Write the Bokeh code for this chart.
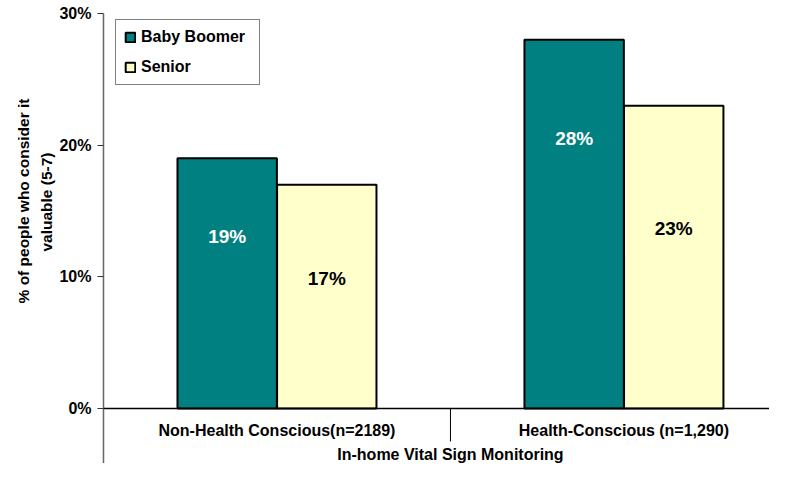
from bokeh.plotting import figure
from bokeh.models import (Range1d, FixedTicker, PrintfTickFormatter, Legend,
                          LegendItem, Span, Title)
from bokeh.core.properties import value
from bokeh.embed import file_html
from bokeh.resources import INLINE

# ---- data ----
categories = ["Non-Health Conscious(n=2189)", "Health-Conscious (n=1,290)"]
series_names = ["Baby Boomer", "Senior"]
baby_boomer = [19, 28]
senior = [17, 23]
y_ticks = [0, 10, 20, 30]
group_label = "In-home Vital Sign Monitoring"
y_label_lines = ["% of people who consider it", "valuable (5-7)"]
boomer_label_y = [13.1, 20.5]
senior_label_y = [9.85, 13.65]

FONT = "Liberation Sans"
TEAL = "#008080"
CREAM = "#FFFFCC"

cat_x = [1 + 2 * i for i in range(len(categories))]
separators = [(a + b) / 2 for a, b in zip(cat_x[:-1], cat_x[1:])]
offset = 0.287
bw = 0.573

p = figure(width=769, height=463,
           x_range=Range1d(0, 3.839), y_range=Range1d(-4.177, 30),
           output_backend="svg", toolbar_location=None,
           x_axis_location=None,
           min_border_left=103, min_border_right=0,
           min_border_top=13, min_border_bottom=0)
p.outline_line_color = None
p.grid.visible = False
p.background_fill_color = "white"

# bars
r1 = p.vbar(x=[c - offset for c in cat_x], top=baby_boomer, width=bw,
            fill_color=TEAL, line_color="black", line_width=2)
r2 = p.vbar(x=[c + offset for c in cat_x], top=senior, width=bw,
            fill_color=CREAM, line_color="black", line_width=2)

# value labels
p.text(x=[c - offset for c in cat_x], y=boomer_label_y,
       text=[f"{v}%" for v in baby_boomer], text_color="white",
       text_font=value(FONT), text_font_style="bold", text_font_size="19px",
       text_align="center", text_baseline="middle")
p.text(x=[c + offset for c in cat_x], y=senior_label_y,
       text=[f"{v}%" for v in senior], text_color="black",
       text_font=value(FONT), text_font_style="bold", text_font_size="19px",
       text_align="center", text_baseline="middle")

# x axis line, separators, category labels
p.add_layout(Span(location=0, dimension="width", line_color="black", line_width=1.5))
p.segment(x0=separators, y0=[0] * len(separators), x1=separators,
          y1=[-2.5] * len(separators), line_color="black", line_width=1)
p.text(x=cat_x, y=[-1.67] * len(cat_x), text=categories, text_color="black",
       text_font=value(FONT), text_font_style="bold", text_font_size="16px",
       text_align="center", text_baseline="middle")
p.text(x=[sum(cat_x) / len(cat_x)], y=[-3.5], text=[group_label],
       text_color="black", text_font=value(FONT), text_font_style="bold",
       text_font_size="16px", text_align="center", text_baseline="middle")

# y axis
ax = p.yaxis[0]
ax.ticker = FixedTicker(ticks=y_ticks, minor_ticks=[])
ax.formatter = PrintfTickFormatter(format="%d%%")
ax.major_label_text_font = FONT
ax.major_label_text_font_style = "bold"
ax.major_label_text_font_size = "16px"
ax.major_label_text_color = "black"
ax.major_tick_out = 6
ax.major_tick_in = 0
ax.minor_tick_out = 0
ax.minor_tick_in = 0
ax.major_label_standoff = 6
ax.axis_line_color = "#666666"
ax.axis_line_width = 1.5
ax.major_tick_line_color = "#333333"

# y-axis title as two vertical lines (second line nearest the axis)
t2 = Title(text=y_label_lines[1], align="right", offset=139,
           text_font=FONT, text_font_style="bold", text_font_size="15.5px",
           text_color="black", standoff=4)
t1 = Title(text=y_label_lines[0], align="right", offset=85,
           text_font=FONT, text_font_style="bold", text_font_size="15.5px",
           text_color="black", standoff=4)
p.add_layout(t2, "left")
p.add_layout(t1, "left")

legend = Legend(items=[LegendItem(label=series_names[0], renderers=[r1]),
                       LegendItem(label=series_names[1], renderers=[r2])],
                location=(12, 378), orientation="vertical",
                border_line_color="black", border_line_width=1,
                background_fill_color="white", background_fill_alpha=1,
                label_text_font=FONT, label_text_font_style="bold",
                label_text_font_size="16px", label_text_color="black",
                glyph_width=12, glyph_height=12,
                label_standoff=5, label_height=18, label_width=110,
                spacing=12, padding=8, margin=0)
p.add_layout(legend)

open("out.html", "w").write(file_html(p, INLINE))
